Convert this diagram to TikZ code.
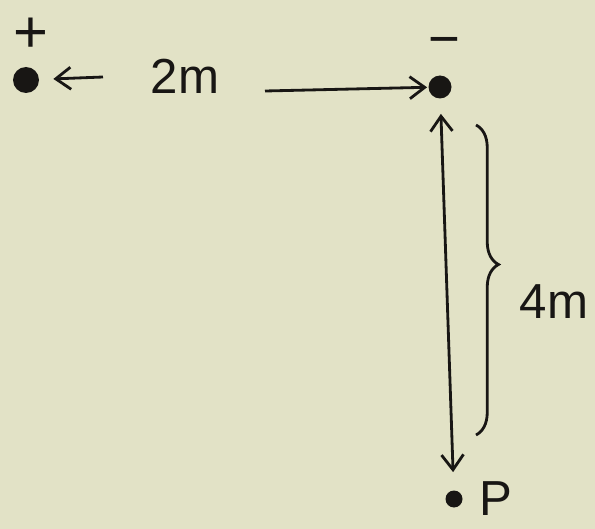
\documentclass[tikz,border=0pt]{standalone}
\usepackage{fontspec}
\setmainfont{Liberation Sans}
\usetikzlibrary{arrows.meta,positioning,decorations.pathreplacing}
\definecolor{paper}{RGB}{226,226,198}
\definecolor{ink}{RGB}{24,22,20}

\begin{document}
\begin{tikzpicture}[x=0.2mm, y=-0.2mm, color=ink, line width=1.6pt,
  >={Straight Barb[length=3mm,width=4.4mm]},
  charge/.style={circle, fill=ink, inner sep=0pt, minimum size=#1},
  sign/.style={inner sep=0pt, anchor=base, font=\fontsize{#1}{#1}\selectfont},
  lbl/.style={inner sep=1pt, font=\fontsize{28}{32}\selectfont}]
  \fill[paper] (0,0) rectangle (595,529);
  \useasboundingbox (0,0) rectangle (595,529);
  % charges and the point P
  \node[charge=5.2mm] (qp) at (26,80) {};
  \node[sign=34] (sp) at (31,53) {+};
  \node[charge=4.6mm] (qn) at (440,87) {};
  \node[sign=31] (sm) at (444,58) {−};
  \node[charge=3.4mm] (p) at (454,499) {};
  \node[lbl, right=2.4mm of p] (pl) {P};
  % distances
  \node[lbl] (d2) at (185,76) {2m};
  \coordinate (t1) at (103,77);
  \coordinate (t2) at (265,91);
  \draw[->, shorten >=2.6mm] (t1) -- (qp);
  \draw[->] (t2) -- (qn);
  \draw[<->, shorten <=2.8mm, shorten >=3.4mm] (qn) -- (p);
  \coordinate (b1) at (476,125);
  \coordinate (b2) at (476,435);
  \draw[decorate, decoration={brace, amplitude=4.5mm, aspect=0.45}] (b1) -- (b2);
  \node[lbl] (d4) at (554,302) {4m};
\end{tikzpicture}
\end{document}
